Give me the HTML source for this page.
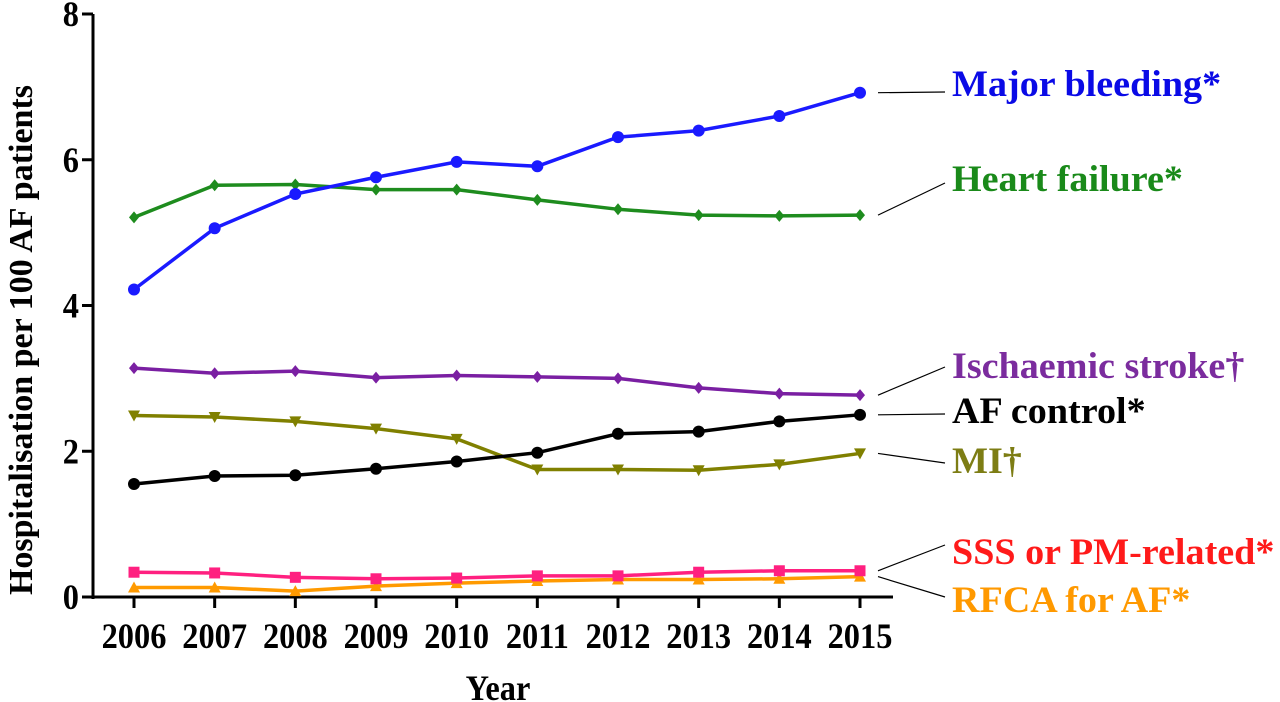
<!DOCTYPE html>
<html><head><meta charset="utf-8"><style>
html,body{margin:0;padding:0;background:#fff;}
svg{display:block;font-family:"Liberation Serif",serif;font-weight:bold;}
</style></head><body>
<svg id="chart" width="1280" height="702"></svg>
<script>
const years=[2006,2007,2008,2009,2010,2011,2012,2013,2014,2015];
const yTicks=[0,2,4,6,8];
const majorBleeding=[4.22,5.06,5.53,5.76,5.97,5.91,6.31,6.40,6.60,6.92];
const heartFailure=[5.21,5.65,5.66,5.59,5.59,5.45,5.32,5.24,5.23,5.24];
const ischaemicStroke=[3.14,3.07,3.10,3.01,3.04,3.02,3.00,2.87,2.79,2.77];
const afControl=[1.55,1.66,1.67,1.76,1.86,1.98,2.24,2.27,2.41,2.50];
const mi=[2.49,2.47,2.41,2.31,2.17,1.75,1.75,1.74,1.82,1.97];
const sss=[0.34,0.33,0.27,0.25,0.26,0.29,0.29,0.34,0.36,0.36];
const rfca=[0.13,0.13,0.08,0.15,0.19,0.22,0.24,0.24,0.25,0.28];
const seriesNames=["Major bleeding*","Heart failure*","Ischaemic stroke†","AF control*","MI†","SSS or PM-related*","RFCA for AF*"];

const NS="http://www.w3.org/2000/svg";
const svg=document.getElementById('chart');
const X=y=>134+(y-2006)*(860-134)/9;
const Y=v=>597-v*(597-14)/8;
function mk(tag,attrs,parent){const e=document.createElementNS(NS,tag);for(const k in attrs)e.setAttribute(k,attrs[k]);(parent||svg).appendChild(e);return e;}

let e;
e=mk('line',{x1:93,y1:14,x2:93,y2:599,stroke:'#000','stroke-width':3});


e=mk('line',{x1:91,y1:597,x2:893,y2:597,stroke:'#000','stroke-width':3});


yTicks.forEach(t=>{
  mk('line',{x1:82,y1:Y(t),x2:93,y2:Y(t),stroke:'#000','stroke-width':3});
  e=mk('text',{x:0,y:0,'text-anchor':'end','font-size':36,transform:`translate(79,${Y(t)+12}) scale(0.9,1)`});
  e.textContent=t;
  
  
});
years.forEach(yr=>{
  mk('line',{x1:X(yr),y1:597,x2:X(yr),y2:608,stroke:'#000','stroke-width':3});
  e=mk('text',{x:0,y:0,'text-anchor':'middle','font-size':36,transform:`translate(${X(yr)},648) scale(0.9,1)`});
  e.textContent=yr;
  
  
});
e=mk('text',{x:0,y:0,'text-anchor':'middle','font-size':36,transform:'translate(498,700) scale(0.9,1)'});
e.textContent='Year';


e=mk('text',{x:0,y:0,'text-anchor':'middle','font-size':34,transform:'translate(32,340) rotate(-90)'});
e.textContent='Hospitalisation per 100 AF patients';



const series=[
 {d:majorBleeding,c:'#1a1aff',tc:'#0a0ae6',m:'circle',ly:92,ty:88},
 {d:heartFailure,c:'#1e8c1e',tc:'#1a8a1a',m:'diamond',ly:183,ty:183},
 {d:ischaemicStroke,c:'#7a1fa2',tc:'#7b2c9e',m:'diamond',ly:367,ty:370},
 {d:afControl,c:'#000',tc:'#000',m:'circle',ly:414,ty:415},
 {d:mi,c:'#808000',tc:'#7d7d14',m:'tridown',ly:463,ty:465},
 {d:sss,c:'#ff2080',tc:'#ff1a1a',m:'square',ly:545,ty:556},
 {d:rfca,c:'#ff9a00',tc:'#ff9900',m:'triup',ly:597,ty:604}
];
series.slice().reverse().forEach((s,ri)=>{
  const i=series.length-1-ri;
  const g=mk('g',{});
  
  
  mk('polyline',{points:s.d.map((v,k)=>X(years[k])+','+Y(v)).join(' '),fill:'none',stroke:s.c,'stroke-width':3.5},g);
  s.d.forEach((v,k)=>{
    const x=X(years[k]),y=Y(v);let p;
    if(s.m==='circle')p=mk('circle',{cx:x,cy:y,r:6,fill:s.c},g);
    else if(s.m==='square')p=mk('rect',{x:x-5.5,y:y-5.5,width:11,height:11,fill:s.c},g);
    else if(s.m==='diamond')p=mk('polygon',{points:`${x},${y-6} ${x+5},${y} ${x},${y+6} ${x-5},${y}`,fill:s.c},g);
    else if(s.m==='tridown')p=mk('polygon',{points:`${x-6},${y-5} ${x+6},${y-5} ${x},${y+6}`,fill:s.c},g);
    else p=mk('polygon',{points:`${x-6},${y+5} ${x+6},${y+5} ${x},${y-6}`,fill:s.c},g);
    
    
  });
  const last=s.d[s.d.length-1];
  mk('line',{x1:878,y1:Y(last),x2:945,y2:s.ly,stroke:'#000','stroke-width':1.2});
  const t=mk('text',{x:0,y:0,'font-size':37,fill:s.tc,transform:`translate(952,${s.ty+8}) scale(1.03,1)`});
  t.textContent=seriesNames[i];
  
  
});
</script>
</body></html>
